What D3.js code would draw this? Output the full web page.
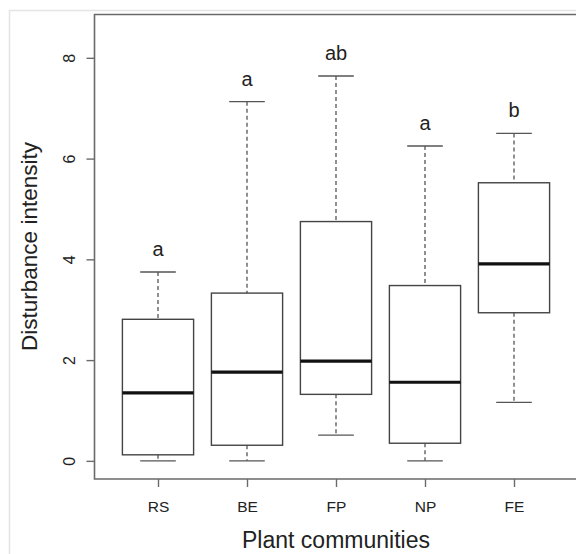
<!DOCTYPE html>
<html>
<head>
<meta charset="utf-8">
<script src="https://cdn.jsdelivr.net/npm/d3@7"></script>
<style>
  html, body { margin: 0; padding: 0; background: #fff; }
  svg { display: block; }
  text { font-family: "Liberation Sans", Arial, sans-serif; fill: #222; }
</style>
</head>
<body>
<svg id="chart" width="576" height="554"></svg>
<script>
// Disturbance intensity per plant community (box plot statistics)
const communities = ["RS", "BE", "FP", "NP", "FE"];
const whiskerLow  = [0.00, 0.00, 0.51, 0.00, 1.16];
const quartile1   = [0.12, 0.31, 1.32, 0.35, 2.94];
const medians     = [1.35, 1.76, 1.98, 1.56, 3.91];
const quartile3   = [2.81, 3.33, 4.75, 3.48, 5.52];
const whiskerHigh = [3.75, 7.13, 7.64, 6.25, 6.50];
const groupLetters = ["a", "a", "ab", "a", "b"];
const yTicks = [0, 2, 4, 6, 8];

const svg = d3.select("#chart");

const frame = { left: 94.5, right: 576, top: 14.5, bottom: 479 };

// thin outer border of the figure panel
svg.append("line").attr("x1", 9.5).attr("x2", 9.5).attr("y1", 10).attr("y2", 554)
  .attr("stroke", "#e4e4e4").attr("stroke-width", 1.5);
svg.append("line").attr("x1", 9).attr("x2", 576).attr("y1", 10.5).attr("y2", 10.5)
  .attr("stroke", "#e4e4e4").attr("stroke-width", 1.5);

const x = d3.scalePoint().domain(communities).range([158, 514]);
const step = 89;
const boxW = step * 0.8;
const capW = boxW / 2;

const y = d3.scaleLinear().domain([-0.36, 8.86]).range([frame.bottom, frame.top]);

// plot frame (right edge falls outside the page)
svg.append("path")
  .attr("d", `M${frame.right},${frame.top}H${frame.left}V${frame.bottom}H${frame.right}`)
  .attr("fill", "none").attr("stroke", "#6a6a6a").attr("stroke-width", 1.6);

// y axis
const yAxis = svg.append("g").attr("transform", `translate(${frame.left},0)`)
  .call(d3.axisLeft(y).tickValues(yTicks).tickSize(8).tickPadding(0).tickFormat(d3.format("d")));
yAxis.select(".domain").remove();
yAxis.selectAll(".tick line").attr("stroke", "#6a6a6a").attr("stroke-width", 1.4);
yAxis.selectAll(".tick text")
  .attr("x", null).attr("dy", null)
  .attr("transform", "translate(-19.5,0) rotate(-90)")
  .attr("text-anchor", "middle")
  .style("font-size", "16px")
  .style("font-family", "'Liberation Sans', Arial, sans-serif")
  .attr("fill", "#444");

// x axis
const xAxis = svg.append("g").attr("transform", `translate(0,${frame.bottom})`)
  .call(d3.axisBottom(x).tickSize(8).tickPadding(0));
xAxis.select(".domain").remove();
xAxis.selectAll(".tick line").attr("stroke", "#6a6a6a").attr("stroke-width", 1.4);
xAxis.selectAll(".tick text")
  .attr("y", 33).attr("dy", null)
  .style("font-size", "15.5px")
  .style("font-family", "'Liberation Sans', Arial, sans-serif")
  .attr("fill", "#333");

// boxes
const data = communities.map((c, i) => ({
  c, lo: whiskerLow[i], q1: quartile1[i], med: medians[i], q3: quartile3[i], hi: whiskerHigh[i], letter: groupLetters[i]
}));

const g = svg.append("g");
const box = g.selectAll("g.box").data(data).join("g").attr("class", "box");

// dashed whiskers
box.append("line")
  .attr("x1", d => x(d.c)).attr("x2", d => x(d.c))
  .attr("y1", d => y(d.hi)).attr("y2", d => y(d.q3))
  .attr("stroke", "#555").attr("stroke-width", 1.3).attr("stroke-dasharray", "4,3");
box.append("line")
  .attr("x1", d => x(d.c)).attr("x2", d => x(d.c))
  .attr("y1", d => y(d.q1)).attr("y2", d => y(d.lo))
  .attr("stroke", "#555").attr("stroke-width", 1.3).attr("stroke-dasharray", "4,3");

// whisker caps
box.append("line")
  .attr("x1", d => x(d.c) - capW / 2).attr("x2", d => x(d.c) + capW / 2)
  .attr("y1", d => y(d.hi)).attr("y2", d => y(d.hi))
  .attr("stroke", "#555").attr("stroke-width", 1.4);
box.append("line")
  .attr("x1", d => x(d.c) - capW / 2).attr("x2", d => x(d.c) + capW / 2)
  .attr("y1", d => y(d.lo)).attr("y2", d => y(d.lo))
  .attr("stroke", "#555").attr("stroke-width", 1.4);

// interquartile box
box.append("rect")
  .attr("x", d => x(d.c) - boxW / 2).attr("width", boxW)
  .attr("y", d => y(d.q3)).attr("height", d => y(d.q1) - y(d.q3))
  .attr("fill", "#fff").attr("stroke", "#444").attr("stroke-width", 1.4);

// median
box.append("line")
  .attr("x1", d => x(d.c) - boxW / 2).attr("x2", d => x(d.c) + boxW / 2)
  .attr("y1", d => y(d.med)).attr("y2", d => y(d.med))
  .attr("stroke", "#111").attr("stroke-width", 3.2);

// significance letters
box.append("text")
  .attr("x", d => x(d.c)).attr("y", d => y(d.hi) - 16)
  .attr("text-anchor", "middle")
  .style("font-size", "20px")
  .text(d => d.letter);

// axis titles
svg.append("text")
  .attr("x", 336).attr("y", 548)
  .attr("text-anchor", "middle")
  .style("font-size", "23px")
  .text("Plant communities");

svg.append("text")
  .attr("transform", "translate(37,246.5) rotate(-90)")
  .attr("text-anchor", "middle")
  .style("font-size", "22.5px")
  .text("Disturbance intensity");
</script>
</body>
</html>
